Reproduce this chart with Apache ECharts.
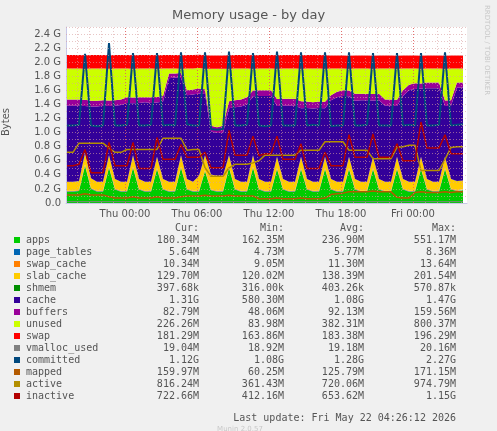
<!DOCTYPE html>
<html>
<head>
<meta charset="utf-8">
<script src="https://cdn.jsdelivr.net/npm/echarts@6/dist/echarts.min.js"></script>
<style>
  html, body { margin: 0; padding: 0; background: #f0f0f0; }
  #chart { width: 497px; height: 431px; }
</style>
</head>
<body>
<div id="chart"></div>
<script>
// samples every 30 minutes, starting Wed 20 May 2026 19:10
var startTime = Date.UTC(2026, 4, 20, 19, 10);
var stepMs = 30 * 60 * 1000;

// values in G
var apps = [0.16,0.16,0.17,0.53,0.20,0.16,0.16,0.50,0.19,0.16,0.16,0.50,0.19,0.16,0.16,0.48,0.19,0.16,0.16,0.50,0.19,0.16,0.16,0.45,0.18,0.16,0.16,0.50,0.19,0.16,0.16,0.50,0.19,0.16,0.16,0.48,0.19,0.16,0.16,0.48,0.19,0.16,0.16,0.48,0.19,0.16,0.16,0.48,0.19,0.16,0.16,0.48,0.19,0.16,0.16,0.48,0.19,0.16,0.16,0.48,0.19,0.16,0.16,0.48,0.19,0.17,0.18];
var pageTables = [0.0055,0.0055,0.0055,0.0056,0.0055,0.0055,0.0055,0.0056,0.0055,0.0055,0.0055,0.0056,0.0055,0.0055,0.0055,0.0056,0.0055,0.0055,0.0055,0.0056,0.0055,0.0055,0.0055,0.0056,0.0055,0.0055,0.0055,0.0056,0.0055,0.0055,0.0055,0.0056,0.0055,0.0055,0.0055,0.0056,0.0055,0.0055,0.0055,0.0056,0.0055,0.0055,0.0055,0.0056,0.0055,0.0055,0.0055,0.0056,0.0055,0.0055,0.0055,0.0056,0.0055,0.0055,0.0055,0.0056,0.0055,0.0055,0.0055,0.0056,0.0055,0.0055,0.0055,0.0056,0.0055,0.0055,0.0055];
var swapCache = [0.010,0.010,0.010,0.011,0.010,0.010,0.010,0.011,0.010,0.010,0.010,0.011,0.010,0.010,0.010,0.011,0.010,0.010,0.010,0.011,0.010,0.010,0.010,0.011,0.010,0.010,0.010,0.011,0.010,0.010,0.010,0.011,0.010,0.010,0.010,0.011,0.010,0.010,0.010,0.011,0.010,0.010,0.010,0.011,0.010,0.010,0.010,0.011,0.010,0.010,0.010,0.011,0.010,0.010,0.010,0.011,0.010,0.010,0.010,0.011,0.010,0.010,0.010,0.011,0.010,0.010,0.010];
var slabCache = [0.125,0.125,0.125,0.16,0.135,0.125,0.125,0.16,0.135,0.125,0.125,0.16,0.135,0.125,0.125,0.16,0.135,0.125,0.125,0.16,0.135,0.125,0.21,0.21,0.21,0.21,0.21,0.16,0.135,0.125,0.125,0.16,0.135,0.125,0.125,0.16,0.135,0.125,0.125,0.16,0.135,0.125,0.125,0.16,0.135,0.125,0.125,0.16,0.135,0.125,0.125,0.16,0.135,0.125,0.125,0.16,0.135,0.125,0.125,0.16,0.135,0.125,0.125,0.16,0.135,0.125,0.125];
var shmem = [0.0004,0.0004,0.0004,0.0004,0.0004,0.0004,0.0004,0.0004,0.0004,0.0004,0.0004,0.0004,0.0004,0.0004,0.0004,0.0004,0.0004,0.0004,0.0004,0.0004,0.0004,0.0004,0.0004,0.0004,0.0004,0.0004,0.0004,0.0004,0.0004,0.0004,0.0004,0.0004,0.0004,0.0004,0.0004,0.0004,0.0004,0.0004,0.0004,0.0004,0.0004,0.0004,0.0004,0.0004,0.0004,0.0004,0.0004,0.0004,0.0004,0.0004,0.0004,0.0004,0.0004,0.0004,0.0004,0.0004,0.0004,0.0004,0.0004,0.0004,0.0004,0.0004,0.0004,0.0004,0.0004,0.0004,0.0004];
var cache = [1.08,1.08,1.07,0.67,1.02,1.07,1.08,0.70,1.04,1.09,1.12,0.74,1.08,1.13,1.12,0.77,1.10,1.47,1.48,1.10,1.19,1.24,1.17,0.87,0.61,0.61,0.61,0.67,1.02,1.07,1.10,0.84,1.18,1.22,1.22,0.72,1.04,1.08,1.08,0.69,1.01,1.04,1.05,0.69,1.12,1.20,1.22,0.86,1.11,1.16,1.16,0.80,1.12,1.08,1.08,0.72,1.18,1.30,1.32,0.97,1.29,1.33,1.33,0.72,1.04,1.33,1.32];
var buffers = [0.09,0.09,0.09,0.09,0.08,0.08,0.08,0.08,0.08,0.08,0.08,0.08,0.08,0.07,0.08,0.08,0.08,0.07,0.06,0.07,0.07,0.07,0.07,0.07,0.08,0.08,0.10,0.10,0.10,0.10,0.10,0.08,0.08,0.08,0.08,0.10,0.10,0.10,0.10,0.10,0.09,0.09,0.09,0.09,0.07,0.08,0.08,0.08,0.10,0.09,0.09,0.09,0.09,0.09,0.09,0.09,0.08,0.08,0.08,0.07,0.08,0.08,0.08,0.08,0.08,0.07,0.07];
var unused = [0.44,0.44,0.44,0.44,0.46,0.46,0.45,0.45,0.45,0.44,0.41,0.41,0.41,0.41,0.41,0.40,0.39,0.07,0.07,0.06,0.31,0.30,0.29,0.29,0.81,0.83,0.81,0.46,0.45,0.44,0.41,0.31,0.31,0.31,0.31,0.43,0.43,0.43,0.43,0.46,0.47,0.48,0.47,0.47,0.38,0.33,0.31,0.31,0.36,0.36,0.36,0.36,0.36,0.44,0.44,0.44,0.31,0.23,0.21,0.21,0.20,0.20,0.20,0.45,0.45,0.20,0.20];
var swap = [0.19,0.19,0.19,0.19,0.19,0.19,0.19,0.19,0.19,0.19,0.19,0.19,0.19,0.19,0.19,0.19,0.19,0.19,0.19,0.19,0.19,0.19,0.19,0.19,0.19,0.19,0.19,0.19,0.19,0.19,0.19,0.19,0.19,0.19,0.19,0.19,0.19,0.19,0.19,0.19,0.19,0.19,0.19,0.19,0.185,0.185,0.185,0.185,0.185,0.185,0.185,0.185,0.185,0.185,0.185,0.185,0.185,0.185,0.185,0.185,0.185,0.185,0.185,0.185,0.185,0.185,0.185];
var vmallocUsed = [0.019,0.019,0.019,0.019,0.019,0.019,0.019,0.019,0.019,0.019,0.019,0.019,0.019,0.019,0.019,0.019,0.019,0.019,0.019,0.019,0.019,0.019,0.019,0.019,0.019,0.019,0.019,0.019,0.019,0.019,0.019,0.019,0.019,0.019,0.019,0.019,0.019,0.019,0.019,0.019,0.019,0.019,0.019,0.019,0.019,0.019,0.019,0.019,0.019,0.019,0.019,0.019,0.019,0.019,0.019,0.019,0.019,0.019,0.019,0.019,0.019,0.019,0.019,0.019,0.019,0.019,0.019];
var committed = [1.10,1.10,1.11,2.12,1.10,1.09,1.10,2.27,1.10,1.10,1.11,2.13,1.10,1.10,1.11,2.13,1.10,1.11,1.10,2.14,1.12,1.10,1.10,2.14,1.05,1.04,1.05,2.15,1.10,1.10,1.11,2.13,1.10,1.09,1.10,2.15,1.10,1.10,1.10,2.14,1.10,1.11,1.10,2.14,1.09,1.10,1.10,2.14,1.10,1.10,1.11,2.13,1.10,1.10,1.10,2.13,1.10,1.11,1.10,2.13,1.10,1.10,1.11,2.14,1.10,1.11,1.12];
var mapped = [0.115,0.115,0.115,0.13,0.115,0.115,0.115,0.09,0.07,0.07,0.07,0.09,0.07,0.07,0.07,0.09,0.07,0.07,0.07,0.09,0.10,0.10,0.10,0.11,0.10,0.10,0.10,0.11,0.10,0.10,0.10,0.10,0.06,0.06,0.06,0.07,0.06,0.06,0.06,0.07,0.06,0.06,0.06,0.07,0.12,0.13,0.14,0.16,0.16,0.16,0.16,0.17,0.16,0.16,0.16,0.08,0.07,0.07,0.15,0.16,0.15,0.15,0.15,0.16,0.15,0.16,0.16];
var active = [0.72,0.72,0.85,0.85,0.85,0.85,0.85,0.78,0.72,0.72,0.76,0.76,0.76,0.76,0.76,0.76,0.92,0.92,0.92,0.92,0.75,0.76,0.76,0.50,0.38,0.38,0.38,0.50,0.55,0.55,0.55,0.57,0.60,0.68,0.68,0.68,0.68,0.68,0.68,0.75,0.75,0.75,0.75,0.87,0.87,0.87,0.87,0.75,0.75,0.75,0.75,0.63,0.63,0.63,0.63,0.79,0.80,0.82,0.82,0.46,0.46,0.46,0.46,0.62,0.79,0.80,0.80];
var inactive = [0.53,0.53,0.55,0.76,0.43,0.43,0.43,0.86,0.53,0.53,0.53,0.86,0.49,0.49,0.49,0.93,0.62,0.62,0.62,0.83,0.65,0.65,0.65,0.72,0.50,0.50,0.50,1.03,0.68,0.68,0.68,0.95,0.67,0.70,0.70,0.95,0.62,0.62,0.62,0.84,0.49,0.49,0.49,0.72,0.53,0.53,0.53,0.97,0.65,0.65,0.65,0.98,0.65,0.65,0.65,0.84,0.60,0.60,0.60,1.15,0.78,0.78,0.78,0.97,0.70,0.70,0.70];

var yTicks = ['0.0', '0.2 G', '0.4 G', '0.6 G', '0.8 G', '1.0 G', '1.2 G', '1.4 G', '1.6 G', '1.8 G', '2.0 G', '2.2 G', '2.4 G'];
var xLabelTimes = [Date.UTC(2026,4,21,0), Date.UTC(2026,4,21,6), Date.UTC(2026,4,21,12), Date.UTC(2026,4,21,18), Date.UTC(2026,4,22,0)];
var xLabels = ['Thu 00:00', 'Thu 06:00', 'Thu 12:00', 'Thu 18:00', 'Fri 00:00'];

// legend table
var legNames = ['apps','page_tables','swap_cache','slab_cache','shmem','cache','buffers','unused','swap','vmalloc_used','committed','mapped','active','inactive'];
var legColors = ['#00cc00','#0066b3','#ff8000','#ffcc00','#008f00','#330099','#990099','#ccff00','#ff0000','#808080','#00487d','#b35a00','#b38f00','#b30000'];
var legCur = ['180.34M','5.64M','10.34M','129.70M','397.68k','1.31G','82.79M','226.26M','181.29M','19.04M','1.12G','159.97M','816.24M','722.66M'];
var legMin = ['162.35M','4.73M','9.05M','120.02M','316.00k','580.30M','48.06M','83.98M','163.86M','18.92M','1.08G','60.25M','361.43M','412.16M'];
var legAvg = ['236.90M','5.77M','11.30M','138.39M','403.26k','1.08G','92.13M','382.31M','183.38M','19.18M','1.28G','125.79M','720.06M','653.62M'];
var legMax = ['551.17M','8.36M','13.64M','201.54M','570.87k','1.47G','159.56M','800.37M','196.29M','20.16M','2.27G','171.15M','974.79M','1.15G'];

var xMin = Date.UTC(2026, 4, 20, 19, 5);
var xMax = Date.UTC(2026, 4, 22, 4, 30);

var times = [];
for (var i = 0; i < apps.length; i++) times.push(startTime + i * stepMs);
var hourTicks = [];
for (var h = Date.UTC(2026, 4, 20, 20); h <= xMax; h += 3600 * 1000) hourTicks.push(h);

function pairs(vals) {
  var ret = [];
  for (var i = 0; i < vals.length; i++) ret.push([times[i], vals[i]]);
  return ret;
}

var stacked = [
  ['apps', apps], ['page_tables', pageTables], ['swap_cache', swapCache], ['slab_cache', slabCache],
  ['shmem', shmem], ['cache', cache], ['buffers', buffers], ['unused', unused], ['swap', swap]
];
var lines = [
  ['vmalloc_used', vmallocUsed, 1], ['committed', committed, 2], ['mapped', mapped, 1.5],
  ['active', active, 1.5], ['inactive', inactive, 1.5]
];

var series = [];
stacked.forEach(function (s) {
  var c = legColors[legNames.indexOf(s[0])];
  series.push({
    name: s[0], type: 'line', stack: 'mem', data: pairs(s[1]),
    showSymbol: false, lineStyle: { width: 0 },
    areaStyle: { color: c, opacity: 1 }, itemStyle: { color: c }, z: 2
  });
});
lines.forEach(function (s) {
  var c = legColors[legNames.indexOf(s[0])];
  series.push({
    name: s[0], type: 'line', data: pairs(s[1]),
    showSymbol: false, lineStyle: { width: s[2], color: c }, itemStyle: { color: c }, z: 3
  });
});
// grid lines drawn over the areas, as rrdtool does
var gridLines = [];
hourTicks.forEach(function (t) {
  var major = xLabelTimes.indexOf(t) >= 0;
  gridLines.push({ xAxis: t, lineStyle: { color: major ? '#e06060' : '#d8a0a0', type: [1, 2], width: 1, opacity: major ? 0.9 : 0.6 } });
});
for (var g = 1; g <= 25; g++) {
  gridLines.push({ yAxis: g / 10, lineStyle: { color: '#d8a0a0', type: [1, 2], width: 1, opacity: 0.6 } });
}
series.push({
  type: 'line', data: [], silent: true, z: 4,
  markLine: { silent: true, symbol: 'none', label: { show: false }, animation: false, data: gridLines }
});

var mono = '"DejaVu Sans Mono", monospace';
var graphics = [
  { type: 'text', left: 'center', top: 9, style: { text: 'Memory usage - by day', font: '13px "DejaVu Sans"', fill: '#555' } },
  { type: 'text', x: 6, y: 122, rotation: Math.PI / 2, style: { text: 'Bytes', font: '10px "DejaVu Sans"', fill: '#555', align: 'center', verticalAlign: 'middle' } },
  { type: 'text', x: 487, y: 5, rotation: -Math.PI / 2, style: { text: 'RRDTOOL / TOBI OETIKER', font: '7px "DejaVu Sans"', fill: '#c8c8c8', align: 'left', verticalAlign: 'middle' } },
  { type: 'text', x: 199, y: 228, style: { text: 'Cur:', font: '10px ' + mono, fill: '#555', align: 'right', verticalAlign: 'middle' } },
  { type: 'text', x: 284, y: 228, style: { text: 'Min:', font: '10px ' + mono, fill: '#555', align: 'right', verticalAlign: 'middle' } },
  { type: 'text', x: 364, y: 228, style: { text: 'Avg:', font: '10px ' + mono, fill: '#555', align: 'right', verticalAlign: 'middle' } },
  { type: 'text', x: 456, y: 228, style: { text: 'Max:', font: '10px ' + mono, fill: '#555', align: 'right', verticalAlign: 'middle' } },
  { type: 'text', x: 456, y: 418, style: { text: 'Last update: Fri May 22 04:26:12 2026', font: '10px ' + mono, fill: '#555', align: 'right', verticalAlign: 'middle' } },
  { type: 'text', x: 240, y: 429, style: { text: 'Munin 2.0.57', font: '7px "DejaVu Sans"', fill: '#c8c8c8', align: 'center', verticalAlign: 'middle' } }
];
for (var k = 0; k < legNames.length; k++) {
  var yy = 240 + k * 12;
  graphics.push({ type: 'rect', shape: { x: 14, y: yy - 3, width: 6, height: 6 }, style: { fill: legColors[k] } });
  graphics.push({ type: 'text', x: 26, y: yy, style: { text: legNames[k], font: '10px ' + mono, fill: '#555', verticalAlign: 'middle' } });
  [[legCur, 199], [legMin, 284], [legAvg, 364], [legMax, 456]].forEach(function (col) {
    graphics.push({ type: 'text', x: col[1], y: yy, style: { text: col[0][k], font: '10px ' + mono, fill: '#555', align: 'right', verticalAlign: 'middle' } });
  });
}

var myChart = echarts.init(document.getElementById('chart'));
var option = {
  backgroundColor: '#f0f0f0',
  animation: false,
  grid: { left: 66, right: 30, top: 27, bottom: 228, backgroundColor: '#fff', show: true, borderWidth: 0 },
  xAxis: [{
    type: 'time',
    min: xMin,
    max: xMax,
    axisLine: { lineStyle: { color: '#c8c8e8' } },
    axisTick: { show: false },
    axisLabel: { show: false },
    splitLine: { show: false }
  }, {
    // label-only axis, same range, labels at the 6-hour marks
    type: 'value',
    position: 'bottom',
    min: xMin,
    max: xMax,
    axisLine: { show: false },
    axisTick: { show: false },
    splitLine: { show: false },
    axisLabel: {
      customValues: xLabelTimes,
      color: '#555', fontFamily: 'DejaVu Sans', fontSize: 10, margin: 6,
      formatter: function (v) { var n = xLabelTimes.indexOf(+v); return n >= 0 ? xLabels[n] : ''; }
    }
  }],
  yAxis: {
    type: 'value', min: 0, max: 2.5, interval: 0.2,
    axisLine: { show: true, lineStyle: { color: '#c8c8e8' } },
    axisTick: { show: false },
    axisLabel: {
      color: '#555', fontFamily: 'DejaVu Sans', fontSize: 10, margin: 5,
      formatter: function (v, idx) { return yTicks[idx] !== undefined ? yTicks[idx] : ''; }
    },
    splitLine: { show: false }
  },
  graphic: graphics,
  series: series
};
myChart.setOption(option);
</script>
</body>
</html>
